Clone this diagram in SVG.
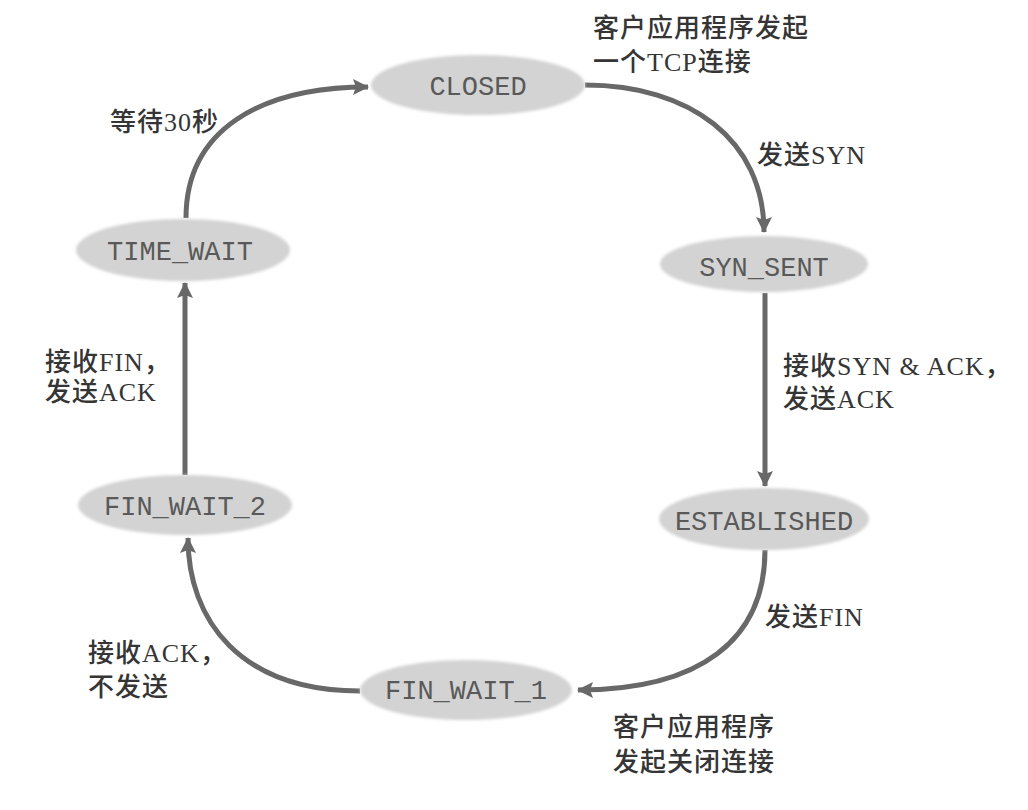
<svg xmlns="http://www.w3.org/2000/svg" width="1028" height="810" viewBox="0 0 1028 810">
  <style>
    .node ellipse { fill: #d3d3d3; }
    .node text { font-family: "Liberation Mono", "DejaVu Sans Mono", monospace; font-size: 27px; fill: #595959; text-anchor: middle; }
    .edge { fill: none; stroke: #686868; stroke-width: 5; marker-end: url(#arrow); }
    .label { font-family: "Liberation Serif", "Noto Sans CJK SC", serif; font-size: 26px; font-weight: 500; fill: #353535; letter-spacing: 1px; }
  </style>
  <defs>
    <marker id="arrow" markerUnits="userSpaceOnUse" markerWidth="18" markerHeight="18" refX="15" refY="8" orient="auto">
      <path d="M0,0 L16,8 L0,16 L3,8 z" fill="#686868"/>
    </marker>
    <filter id="soft" x="-10%" y="-20%" width="120%" height="140%">
      <feGaussianBlur stdDeviation="1.5"/>
    </filter>
  </defs>
  <rect width="1028" height="810" fill="#ffffff"/>

  <g id="connectors">
    <path class="edge" d="M585,85 C690,85 764,140 764,232"/>
    <path class="edge" d="M765,293 L765,486"/>
    <path class="edge" d="M765,550 C765,640 700,690 578,690"/>
    <path class="edge" d="M360,691 C240,691 188,620 188,538"/>
    <path class="edge" d="M185,475 L185,283"/>
    <path class="edge" d="M186,218 C186,130 260,87 368,87"/>
  </g>

  <g id="node-closed" class="node">
    <ellipse cx="478" cy="85" rx="107" ry="30" filter="url(#soft)"/>
    <text x="478" y="95">CLOSED</text>
  </g>
  <g id="node-syn-sent" class="node">
    <ellipse cx="764" cy="264" rx="104" ry="28" filter="url(#soft)"/>
    <text x="764" y="276">SYN_SENT</text>
  </g>
  <g id="node-established" class="node">
    <ellipse cx="764" cy="519" rx="105" ry="31" filter="url(#soft)"/>
    <text x="764" y="530">ESTABLISHED</text>
  </g>
  <g id="node-fin-wait-1" class="node">
    <ellipse cx="466" cy="690" rx="106" ry="30" filter="url(#soft)"/>
    <text x="466" y="699">FIN_WAIT_1</text>
  </g>
  <g id="node-fin-wait-2" class="node">
    <ellipse cx="185" cy="505" rx="107" ry="30" filter="url(#soft)"/>
    <text x="185" y="515">FIN_WAIT_2</text>
  </g>
  <g id="node-time-wait" class="node">
    <ellipse cx="183" cy="250" rx="107" ry="31" filter="url(#soft)"/>
    <text x="180" y="260">TIME_WAIT</text>
  </g>

  <g id="labels">
    <text class="label" x="593" y="37">客户应用程序发起</text>
    <text class="label" x="593" y="71">一个TCP连接</text>
    <text class="label" x="757" y="164">发送SYN</text>
    <text class="label" x="783" y="375">接收SYN &amp; ACK，</text>
    <text class="label" x="783" y="408">发送ACK</text>
    <text class="label" x="765" y="626">发送FIN</text>
    <text class="label" x="613" y="736">客户应用程序</text>
    <text class="label" x="613" y="771">发起关闭连接</text>
    <text class="label" x="88" y="662">接收ACK，</text>
    <text class="label" x="88" y="696">不发送</text>
    <text class="label" x="45" y="371">接收FIN，</text>
    <text class="label" x="45" y="401">发送ACK</text>
    <text class="label" x="110" y="131">等待30秒</text>
  </g>
</svg>
